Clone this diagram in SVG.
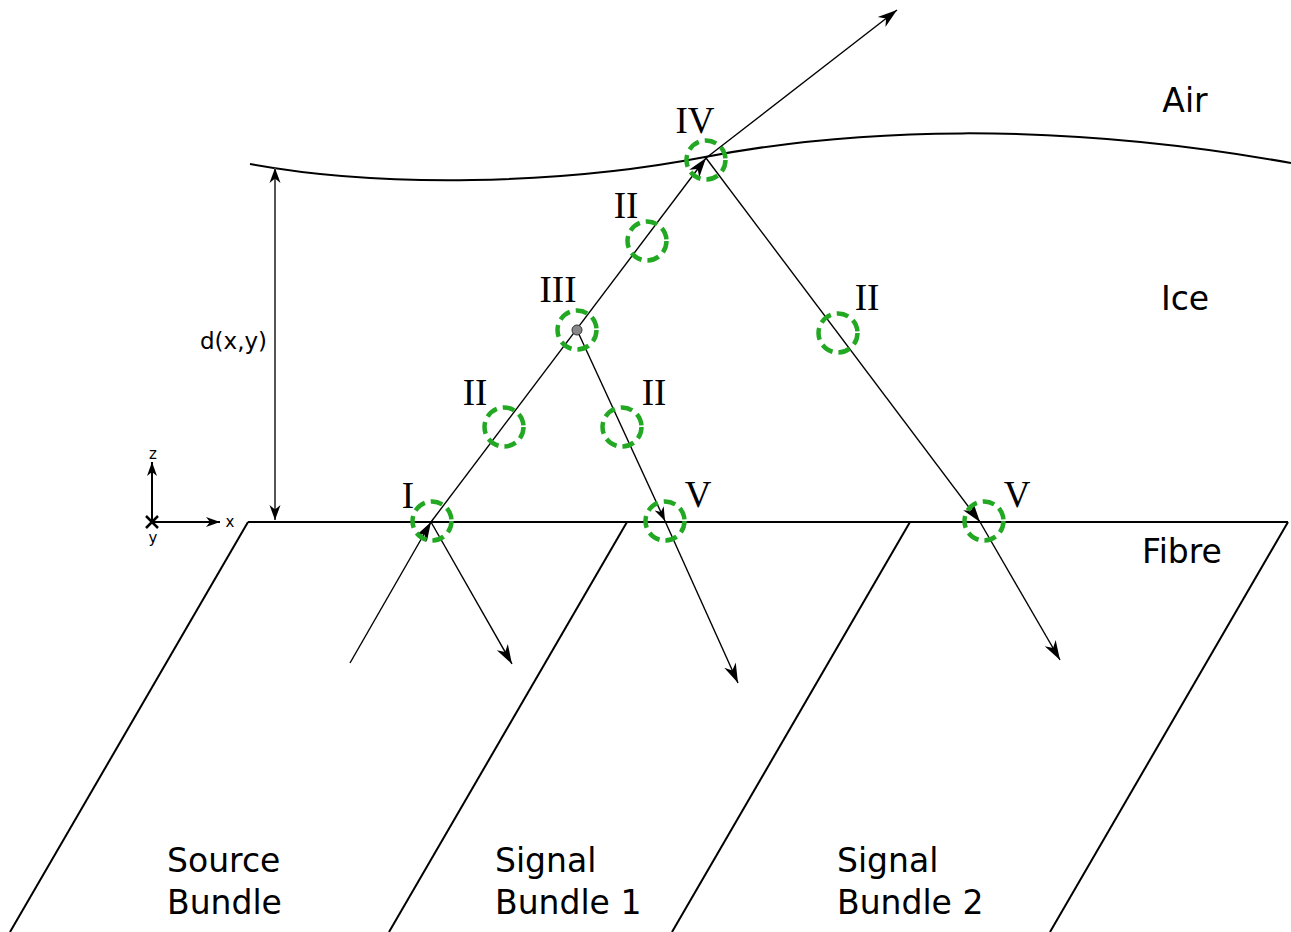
<svg xmlns="http://www.w3.org/2000/svg" width="1291" height="932" viewBox="0 0 1291 932">
<defs>
<marker id="arr" markerUnits="userSpaceOnUse" markerWidth="23" markerHeight="20" viewBox="-18 -8 20 16" refX="0" refY="0" orient="auto">
<path d="M0,0 L-17,-5.5 L-12,0 L-17,5.5 Z" fill="#000"/>
</marker>
<marker id="arrd" markerUnits="userSpaceOnUse" markerWidth="18" markerHeight="16" viewBox="-16 -8 18 16" refX="0" refY="0" orient="auto-start-reverse">
<path d="M0,0 L-15,-5.5 L-10.5,0 L-15,5.5 Z" fill="#000"/>
</marker>
<marker id="arrs" markerUnits="userSpaceOnUse" markerWidth="16" markerHeight="12" viewBox="-14 -6 16 12" refX="0" refY="0" orient="auto">
<path d="M0,0 L-14,-5 L-10,0 L-14,5 Z" fill="#000"/>
</marker>
</defs>
<style>
.ray{fill:none;stroke:#000;stroke-width:1.4}
.bnd{fill:none;stroke:#000;stroke-width:2}
.ring{fill:none;stroke:#22a822;stroke-width:4.5;stroke-dasharray:12,6}
.rom{font-family:"Liberation Serif",serif;font-size:37px;fill:#000;text-anchor:middle}
.lab{font-family:"DejaVu Sans",sans-serif;font-size:33px;fill:#000}
.sm{font-family:"DejaVu Sans",sans-serif;font-size:15px;fill:#000;text-anchor:middle}
</style>
<rect width="1291" height="932" fill="#fff"/>

<g id="surface">
<path class="bnd" d="M250,164 C380,188 560,185 705,157 C850,129 1050,120 1291,163"/>
</g>
<g id="fibre-line">
<path class="bnd" d="M248,522 L1288,522"/>
</g>
<g id="source-bundle">
<path class="bnd" d="M248,522 L10,932"/>
<text class="lab" x="167" y="872">Source</text>
<text class="lab" x="167" y="914">Bundle</text>
</g>
<g id="signal-bundle-1">
<path class="bnd" d="M627,522 L389,932"/>
<text class="lab" x="495" y="872">Signal</text>
<text class="lab" x="495" y="914">Bundle 1</text>
</g>
<g id="signal-bundle-2">
<path class="bnd" d="M910,522 L672,932"/>
<path class="bnd" d="M1288,522 L1050,932"/>
<text class="lab" x="837" y="872">Signal</text>
<text class="lab" x="837" y="914">Bundle 2</text>
</g>
<g id="regions">
<text class="lab" x="1185" y="112" text-anchor="middle">Air</text>
<text class="lab" x="1185" y="310" text-anchor="middle">Ice</text>
<text class="lab" x="1182" y="563" text-anchor="middle">Fibre</text>
</g>

<g id="axes">
<path d="M152,522 L152,462" stroke="#000" stroke-width="2" fill="none" marker-end="url(#arrs)"/>
<path d="M152,522 L220,522" stroke="#000" stroke-width="2" fill="none" marker-end="url(#arrs)"/>
<path d="M146,516 L158,528 M158,516 L146,528" stroke="#000" stroke-width="2.5"/>
<text class="sm" x="153" y="459">z</text>
<text class="sm" x="230" y="527">x</text>
<text class="sm" x="153" y="543">y</text>
</g>

<g id="depth">
<path d="M275,168 L275,520" stroke="#555" stroke-width="2" fill="none" marker-start="url(#arrd)" marker-end="url(#arrd)"/>
<text font-family="DejaVu Sans, sans-serif" font-size="23" x="200" y="349">d(x,y)</text>
</g>

<g id="connectors">
<path class="ray" d="M350,663 L431,522" marker-end="url(#arr)"/>
<path class="ray" d="M431,522 L706,158" marker-end="url(#arr)"/>
<path class="ray" d="M706,158 L897,10" marker-end="url(#arr)"/>
<path class="ray" d="M431,522 L512,664" marker-end="url(#arr)"/>
<path class="ray" d="M577,330 L665,521" marker-end="url(#arrs)"/>
<path class="ray" d="M665,521 L738,683" marker-end="url(#arr)"/>
<path class="ray" d="M706,158 L980,522" marker-end="url(#arr)"/>
<path class="ray" d="M980,522 L1060,660" marker-end="url(#arr)"/>
</g>

<g id="I"><circle class="ring" cx="432" cy="521" r="19.5"/><text class="rom" x="408" y="508">I</text></g>
<g id="II-a"><circle class="ring" cx="504" cy="427" r="19.5"/><text class="rom" x="475" y="405">II</text></g>
<g id="III"><circle class="ring" cx="577" cy="330" r="19.5"/><circle cx="577" cy="330" r="5" fill="#888" stroke="#333" stroke-width="1"/><text class="rom" x="558" y="302">III</text></g>
<g id="II-b"><circle class="ring" cx="647" cy="241" r="19.5"/><text class="rom" x="626" y="218">II</text></g>
<g id="IV"><circle class="ring" cx="706" cy="160" r="19.5"/><text class="rom" x="695" y="133">IV</text></g>
<g id="II-c"><circle class="ring" cx="622" cy="427" r="19.5"/><text class="rom" x="654" y="405">II</text></g>
<g id="V-1"><circle class="ring" cx="665" cy="521" r="19.5"/><text class="rom" x="698" y="507">V</text></g>
<g id="II-d"><circle class="ring" cx="838" cy="333" r="19.5"/><text class="rom" x="867" y="310">II</text></g>
<g id="V-2"><circle class="ring" cx="984" cy="521" r="19.5"/><text class="rom" x="1017" y="507">V</text></g>
</svg>
